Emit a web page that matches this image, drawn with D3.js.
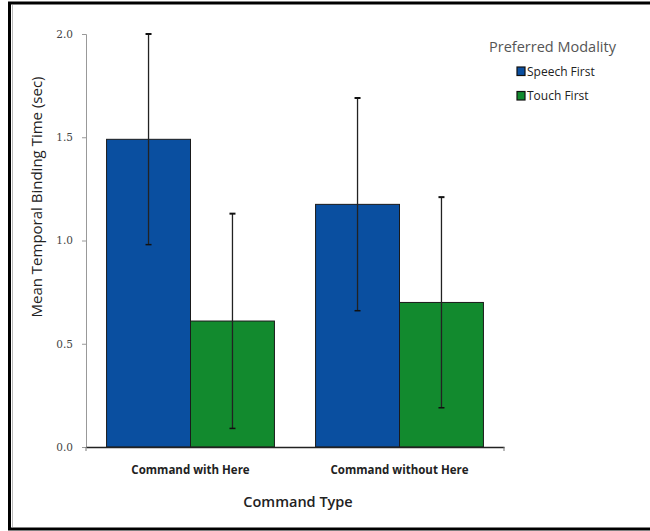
<!DOCTYPE html>
<html lang="en">
<head>
    <meta charset="UTF-8">
    <title>Mean Temporal Binding Time</title>
    <script src="https://d3js.org/d3.v7.min.js"></script>
    <style>
        body {
            margin: 0;
            padding: 0;
            background-color: #ffffff;
        }
        #chart {
            width: 650px;
            height: 531px;
        }
    </style>
</head>
<body>
    <div id="chart"></div>

    <script>
        const categories = ["Command with Here", "Command without Here"];
        const seriesNames = ["Speech First", "Touch First"];
        const seriesColors = ["#0a4fa0", "#128a2e"];
        const speechFirst = [1.49, 1.175];
        const touchFirst = [0.61, 0.70];
        const speechErr = [0.51, 0.515];
        const touchErr = [0.52, 0.51];
        const yTicks = [0.0, 0.5, 1.0, 1.5, 2.0];

        const width = 650;
        const height = 531;
        const margin = { top: 34, right: 146, bottom: 84, left: 86 };

        const svg = d3.select("#chart")
            .append("svg")
            .attr("width", width)
            .attr("height", height);

        // frame round the picture
        svg.append("rect")
            .attr("x", 9.5)
            .attr("y", 3)
            .attr("width", 660)
            .attr("height", 526)
            .attr("fill", "none")
            .attr("stroke", "#000")
            .attr("stroke-width", 3);
        svg.append("line")
            .attr("x1", 12.5).attr("x2", 12.5)
            .attr("y1", 5).attr("y2", 527)
            .attr("stroke", "#bbb");

        const x0 = d3.scaleBand()
            .domain(categories)
            .range([margin.left, width - margin.right])
            .paddingInner(0)
            .paddingOuter(0);

        const x1 = d3.scaleBand()
            .domain(seriesNames)
            .range([0, x0.bandwidth()])
            .paddingOuter(0.245);

        const y = d3.scaleLinear()
            .domain([0, 2])
            .range([height - margin.bottom, margin.top]);

        const rows = categories.map((c, i) => ({
            category: c,
            values: [
                { name: seriesNames[0], value: speechFirst[i], err: speechErr[i], color: seriesColors[0] },
                { name: seriesNames[1], value: touchFirst[i], err: touchErr[i], color: seriesColors[1] }
            ]
        }));

        // y axis
        const yAxis = svg.append("g")
            .attr("transform", `translate(${margin.left},0)`)
            .call(d3.axisLeft(y).tickValues(yTicks).tickFormat(d3.format(".1f")).tickSize(4).tickPadding(9));
        yAxis.select(".domain").attr("stroke", "#999");
        yAxis.selectAll(".tick line").attr("stroke", "#999");
        yAxis.selectAll("text")
            .attr("font-family", "'DejaVu Serif', serif")
            .attr("font-size", "10.5px")
            .attr("fill", "#444");

        const group = svg.append("g")
            .selectAll("g")
            .data(rows)
            .enter().append("g")
            .attr("transform", d => `translate(${x0(d.category)},0)`);

        group.selectAll("rect")
            .data(d => d.values)
            .enter().append("rect")
            .attr("x", d => x1(d.name))
            .attr("y", d => y(d.value))
            .attr("width", x1.bandwidth())
            .attr("height", d => y(0) - y(d.value))
            .attr("fill", d => d.color)
            .attr("stroke", "#1a1a1a")
            .attr("stroke-width", 1);

        // error bars
        const errs = group.selectAll("g.err")
            .data(d => d.values)
            .enter().append("g")
            .attr("class", "err")
            .attr("transform", d => `translate(${x1(d.name) + x1.bandwidth() / 2},0)`);

        errs.append("line")
            .attr("y1", d => y(d.value - d.err))
            .attr("y2", d => y(d.value + d.err))
            .attr("stroke", "#222")
            .attr("stroke-width", 1.3);
        errs.append("line")
            .attr("x1", -3).attr("x2", 3)
            .attr("y1", d => y(d.value + d.err))
            .attr("y2", d => y(d.value + d.err))
            .attr("stroke", "#111")
            .attr("stroke-width", 2);
        errs.append("line")
            .attr("x1", -3).attr("x2", 3)
            .attr("y1", d => y(d.value - d.err))
            .attr("y2", d => y(d.value - d.err))
            .attr("stroke", "#111")
            .attr("stroke-width", 1.5);

        // x axis
        const xAxis = svg.append("g")
            .attr("transform", `translate(0,${y(0)})`)
            .call(d3.axisBottom(x0).tickSize(0).tickPadding(19));
        xAxis.select(".domain").attr("stroke", "#222").attr("stroke-width", 1.3);
        xAxis.selectAll("text")
            .attr("font-family", "'Open Sans', sans-serif")
            .attr("font-weight", "bold")
            .attr("font-size", "11.5px")
            .attr("fill", "#222");
        [margin.left, width - margin.right].forEach(px => {
            xAxis.append("line")
                .attr("x1", px).attr("x2", px)
                .attr("y1", 0).attr("y2", 4)
                .attr("stroke", "#777");
        });

        // axis titles
        svg.append("text")
            .attr("transform", "translate(42,197) rotate(-90)")
            .attr("text-anchor", "middle")
            .attr("font-family", "'Open Sans', sans-serif")
            .attr("font-size", "15px")
            .attr("fill", "#222")
            .text("Mean Temporal Binding Time (sec)");

        svg.append("text")
            .attr("x", 298)
            .attr("y", 507)
            .attr("text-anchor", "middle")
            .attr("font-family", "'Open Sans', sans-serif")
            .attr("font-weight", "600")
            .attr("font-size", "14.5px")
            .attr("fill", "#222")
            .text("Command Type");

        // legend
        const legend = svg.append("g");
        legend.append("text")
            .attr("x", 489)
            .attr("y", 52)
            .attr("font-family", "'Open Sans', sans-serif")
            .attr("font-size", "14.5px")
            .attr("fill", "#555")
            .text("Preferred Modality");

        const items = legend.selectAll("g.item")
            .data(seriesNames)
            .enter().append("g")
            .attr("class", "item")
            .attr("transform", (d, i) => `translate(517,${67 + i * 24.5})`);
        items.append("rect")
            .attr("width", 8).attr("height", 8.5)
            .attr("fill", (d, i) => seriesColors[i])
            .attr("stroke", "#111")
            .attr("stroke-width", 1.2);
        items.append("text")
            .attr("x", 10)
            .attr("y", 8.5)
            .attr("font-family", "'Open Sans', sans-serif")
            .attr("font-size", "12px")
            .attr("fill", "#222")
            .text(d => d);
    </script>
</body>
</html>
